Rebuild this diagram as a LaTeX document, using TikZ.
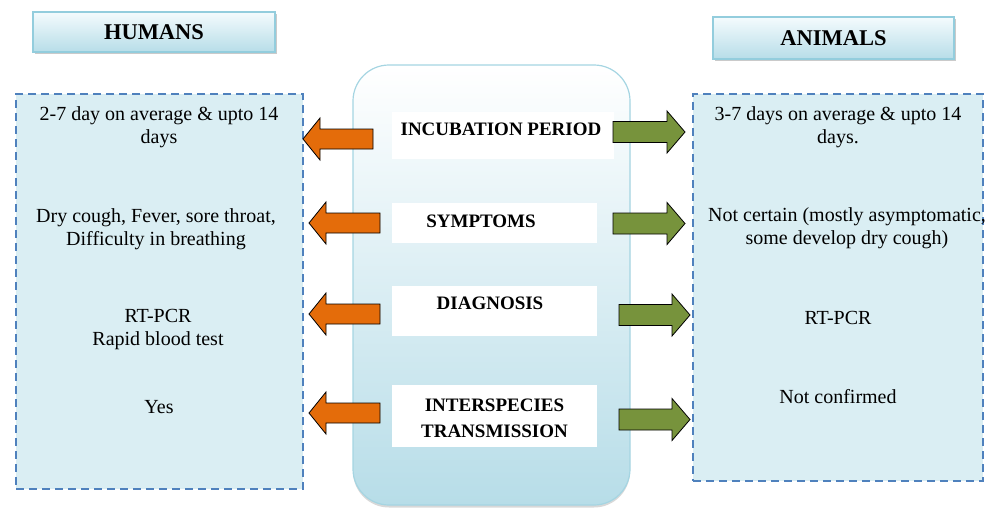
\documentclass[tikz,border=0pt]{standalone}
\usepackage{fontspec}
\setmainfont{Liberation Serif}
\usetikzlibrary{shadows}
\definecolor{orangeA}{HTML}{E46C0A}
\definecolor{greenA}{HTML}{77933C}
\definecolor{boxfill}{HTML}{DAEEF3}
\definecolor{boxline}{HTML}{4F81BD}
\definecolor{hdrline}{HTML}{93CDDD}
\definecolor{hdrtop}{HTML}{F4FBFD}
\definecolor{hdrbot}{HTML}{B7DDE8}
\definecolor{ctrline}{HTML}{A5D5E2}
\newcommand\myLeftArrow[3]{%
  \draw[larrow] ({#2},{#3-10}) -- ({#1+17},{#3-10}) -- ({#1+17},{#3-21}) -- ({#1},{#3})
    -- ({#1+17},{#3+21}) -- ({#1+17},{#3+10}) -- ({#2},{#3+10}) -- cycle;}
\newcommand\myRightArrow[3]{%
  \draw[rarrow] ({#2},{#3-10.5}) -- ({#1-18},{#3-10.5}) -- ({#1-18},{#3-21}) -- ({#1},{#3})
    -- ({#1-18},{#3+21}) -- ({#1-18},{#3+10.5}) -- ({#2},{#3+10.5}) -- cycle;}
\begin{document}
\begin{tikzpicture}[x=1pt,y=-1pt,
  panel/.style={draw=boxline, fill=boxfill, line width=1.3pt, dash pattern=on 8pt off 5pt, inner sep=0pt},
  header/.style={draw=hdrline, line width=1.4pt, top color=hdrtop, bottom color=hdrbot,
     drop shadow={shadow xshift=1.5pt, shadow yshift=-2pt, fill=black!35, opacity=0.6},
     font=\fontsize{22.5}{26}\selectfont\bfseries, inner sep=0pt},
  ctr/.style={draw=ctrline, line width=1.2pt, top color=white, bottom color=hdrbot,
     rounded corners=36pt, inner sep=0pt,
     drop shadow={shadow xshift=0pt, shadow yshift=-2.5pt, fill=black!30, opacity=0.5}},
  wbox/.style={fill=white, inner sep=0pt},
  lbl/.style={font=\fontsize{19}{26}\selectfont\bfseries, align=center, inner sep=0pt},
  body/.style={font=\fontsize{20}{23}\selectfont, align=center, inner sep=0pt},
  larrow/.style={fill=orangeA, draw=black, line width=0.8pt, line join=miter},
  rarrow/.style={fill=greenA, draw=black, line width=0.8pt, line join=miter}]
\useasboundingbox (0,0) rectangle (997,507);

% headers
\node[header, minimum width=242pt, minimum height=40pt] (humans) at (154,32) {HUMANS};
\node[header, minimum width=241pt, minimum height=42pt] (animals) at (833.5,38) {ANIMALS};

% side panels
\node[panel, minimum width=287pt, minimum height=395pt] (hpanel) at (159.5,291.5) {};
\node[panel, minimum width=290pt, minimum height=387pt] (apanel) at (838,287.5) {};

% centre panel
\node[ctr, minimum width=277pt, minimum height=440pt] (centre) at (491.5,285) {};

% white label boxes
\node[wbox, minimum width=222pt, minimum height=47pt] (b1) at (503,135.5) {};
\node[wbox, minimum width=205pt, minimum height=40pt] (b2) at (494.5,223) {};
\node[wbox, minimum width=205pt, minimum height=50pt] (b3) at (494.5,311) {};
\node[wbox, minimum width=205pt, minimum height=62pt] (b4) at (494.5,416) {};

\node[lbl] (t1) at (501,129) {INCUBATION PERIOD};
\node[lbl] (t2) at (481,221) {SYMPTOMS};
\node[lbl] (t3) at (490,303) {DIAGNOSIS};
\node[lbl] (t4) at (494.5,418) {INTERSPECIES\\TRANSMISSION};

% human texts
\node[body] (h1) at (159,127) {2-7 day on average \& upto 14\\days};
\node[body] (h2) at (156,229) {Dry cough, Fever, sore throat,\\Difficulty in breathing};
\node[body] (h3) at (158,330) {RT-PCR\\Rapid blood test};
\node[body] (h4) at (159,407) {Yes};

% animal texts
\node[body] (a1) at (838,127) {3-7 days on average \& upto 14\\days.};
\node[body] (a2) at (847,228) {Not certain (mostly asymptomatic,\\some develop dry cough)};
\node[body] (a3) at (838,318) {RT-PCR};
\node[body] (a4) at (838,397) {Not confirmed};

% arrows
\myLeftArrow{303}{373}{139}
\myLeftArrow{309}{380}{223}
\myLeftArrow{309}{380}{314}
\myLeftArrow{309}{380}{413}
\myRightArrow{685}{613}{132}
\myRightArrow{685}{613}{223.5}
\myRightArrow{690}{619}{315}
\myRightArrow{690}{619}{419.5}
\end{tikzpicture}
\end{document}
